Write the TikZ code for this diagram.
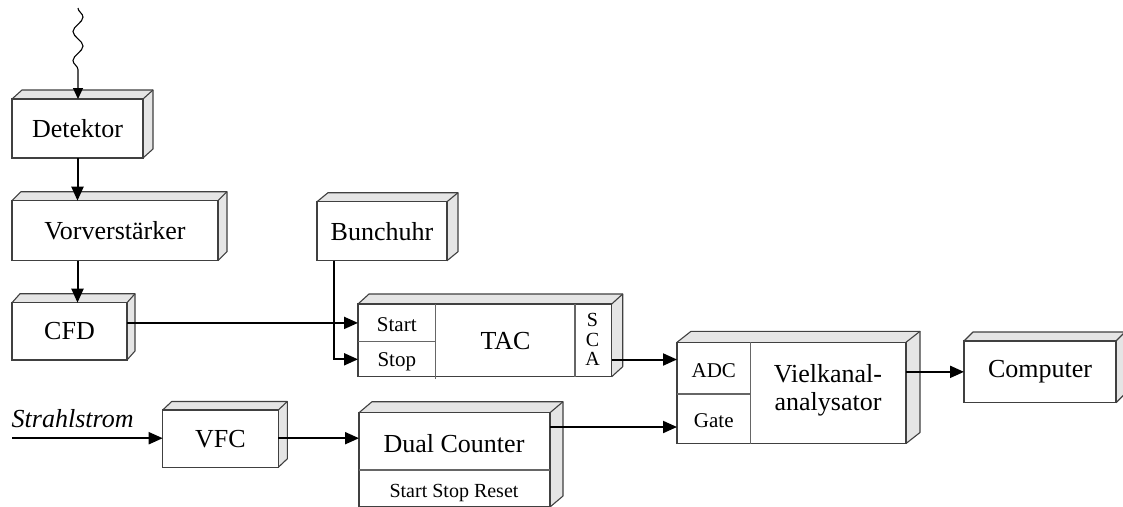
\documentclass[tikz,border=0pt]{standalone}
\usepackage{fontspec}
\setmainfont{Liberation Serif}
\usetikzlibrary{arrows.meta,decorations.pathmorphing}
\definecolor{edgec}{gray}{0.25}
\definecolor{divc}{gray}{0.4}
\definecolor{sidec}{gray}{0.9}
\tikzset{
  edgeline/.style={draw=edgec, line width=1.1pt, line join=round},
  divline/.style={draw=divc, line width=1.1pt},
  box/.style={draw=edgec, line width=1.1pt, fill=white, inner sep=0pt, outer sep=0pt,
    font=\fontsize{26}{30}\selectfont},
  big/.style={font=\fontsize{26}{30}\selectfont, inner sep=0pt},
  lbl/.style={font=\fontsize{21}{24}\selectfont, inner sep=0pt},
  small/.style={font=\fontsize{20}{22}\selectfont, inner sep=0pt},
  sig/.style={line width=2pt, -{Triangle[length=14pt,width=12pt]}},
  wave/.style={line width=1.1pt, -{Triangle[length=11pt,width=10pt]},
    decorate, decoration={snake, amplitude=5pt, segment length=29pt, post length=18pt}},
}
\newcommand\cub[8]{%
  \fill[sidec] (#2,#3) -- (#2+#6,#3-#7) -- (#4+#6,#3-#7) -- (#4+#6,#5-#7) -- (#4,#5) -- (#4,#3) -- cycle;
  \draw[edgeline] (#2,#3) -- (#2+#6,#3-#7) -- (#4+#6,#3-#7) -- (#4+#6,#5-#7) -- (#4,#5);
  \draw[edgeline] (#4,#3) -- (#4+#6,#3-#7);
  \node[box, minimum width=#4-#2, minimum height=#5-#3, anchor=north west] (#1) at (#2,#3) {#8};
}
\begin{document}
\begin{tikzpicture}[x=1pt,y=-1pt]
\useasboundingbox (0,0) rectangle (1123,506);
\clip (0,0) rectangle (1123,506);

% boxes
\cub{det}{12}{99}{143}{158}{10}{9}{Detektor}
\cub{vor}{12}{200.7}{218}{260.7}{9}{9}{Vorverstärker}
\cub{cfd}{12}{302.7}{127}{360}{8}{9}{CFD}
\cub{bun}{317}{201.7}{447}{260.7}{11}{9}{Bunchuhr}
\cub{tac}{358}{304}{611.7}{376.7}{11}{10}{}
\cub{viel}{677}{342.3}{906}{443.5}{14}{11}{}
\cub{comp}{964}{341}{1116}{402.7}{9}{9}{Computer}
\cub{vfc}{162.7}{410}{278.3}{467.3}{9}{8.5}{VFC}
\cub{dual}{359}{412.7}{550}{507}{13}{11}{}

% compartments
\draw[divline] (435.7,304) -- (435.7,378.5);
\draw[divline] (358,341.7) -- (435.7,341.7);
\draw[divline] (575,304) -- (575,376.7);
\draw[divline] (750.7,342.3) -- (750.7,443.5);
\draw[divline] (677,394) -- (750.7,394);
\draw[divline] (359,470) -- (550,470);

% texts in compartments
\node[lbl, anchor=base] (tstart) at (396.8,331.7) {Start};
\node[lbl, anchor=base] (tstop) at (396.8,366) {Stop};
\node[big, anchor=base] (ttac) at (505.5,349.5) {TAC};
\node[small, anchor=base] (ts) at (592.5,326.7) {S};
\node[small, anchor=base] (tc) at (592.5,346.2) {C};
\node[small, anchor=base] (ta) at (592.5,365.7) {A};
\node[lbl, anchor=base] (tadc) at (713.8,377.7) {ADC};
\node[lbl, anchor=base] (tgate) at (713.8,427.3) {Gate};
\node[big, anchor=base] (tv1) at (828,382.3) {Vielkanal-};
\node[big, anchor=base] (tv2) at (828,410) {analysator};
\node[big, anchor=base] (tdc) at (454,452.7) {Dual Counter};
\node[small, anchor=base] (tssr) at (454,497.7) {Start Stop Reset};
\node[big, anchor=base west] (strahl) at (11.5,427.3) {\itshape Strahlstrom};

% connector end points
\coordinate (wtop) at (78,8);
\coordinate (tacstart) at (358,322.9);
\coordinate (tacstop) at (358,359.3);
\coordinate (adcin) at (677,359.5);
\coordinate (gatein) at (677,427);
\coordinate (sin) at (12,438.2);

% connectors
\draw[wave] (wtop) -- (wtop |- det.north);
\draw[sig] (det.south) -- (det.south |- vor.north);
\draw[sig] (det.south |- vor.south) -- (det.south |- cfd.north);
\draw[sig] (cfd.east |- tacstart) -- (tacstart);
\draw[sig] ([xshift=17pt]bun.south west) |- (tacstop);
\draw[sig] (tac.east |- adcin) -- (adcin);
\draw[sig] (viel.east |- comp.west) -- (comp.west);
\draw[sig] (dual.east |- gatein) -- (gatein);
\draw[sig] (sin) -- (vfc.west |- sin);
\draw[sig] (vfc.east |- sin) -- (dual.west |- sin);
\end{tikzpicture}
\end{document}
